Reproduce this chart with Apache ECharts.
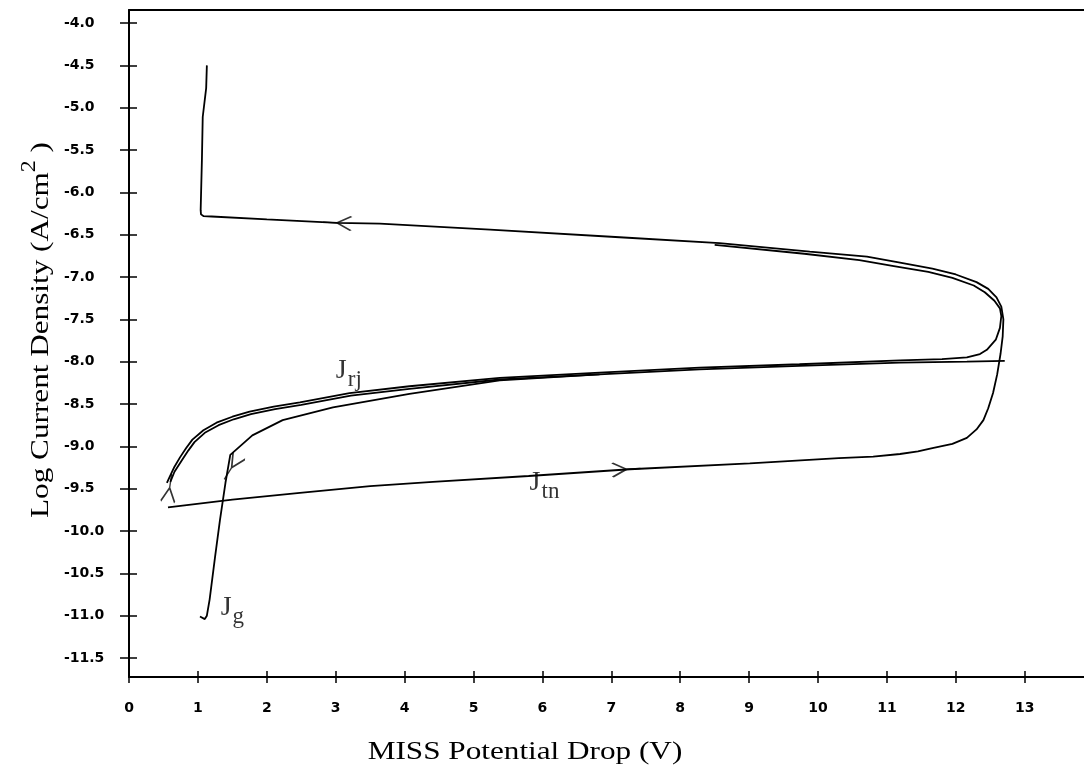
<!DOCTYPE html>
<html>
<head>
<meta charset="utf-8">
<script src="https://cdn.jsdelivr.net/npm/echarts@6/dist/echarts.min.js"></script>
<style>html,body{margin:0;padding:0;background:#fff}#c{width:1084px;height:773px}</style>
</head>
<body>
<div id="c"></div>
<script>
// Tick labels
const xTicks = [0,1,2,3,4,5,6,7,8,9,10,11,12,13];
const yTicks = [-11.5,-11,-10.5,-10,-9.5,-9,-8.5,-8,-7.5,-7,-6.5,-6,-5.5,-5,-4.5,-4];

// J_tn sweep, turning point, upper return line and vertical rise
const tnTopX = [0.566,1.5,2.48,3.5,4.41,5.8,7.27,9.01,10.3,10.8,11.19,11.45,11.66,11.95,12.16,12.30,12.40,12.47,12.54,12.60,12.65,12.68,12.69,12.66,12.59,12.47,12.30,12.00,11.66,11.19,10.71,9.88,8.57,7.12,5.24,3.64,3.02,2.0,1.20,1.08,1.045,1.04,1.058,1.07,1.12,1.13];
const tnTopY = [-9.72,-9.63,-9.55,-9.47,-9.42,-9.35,-9.27,-9.20,-9.14,-9.12,-9.09,-9.06,-9.02,-8.97,-8.90,-8.80,-8.69,-8.55,-8.37,-8.15,-7.90,-7.70,-7.50,-7.35,-7.24,-7.14,-7.06,-6.97,-6.90,-6.83,-6.76,-6.70,-6.60,-6.53,-6.44,-6.37,-6.36,-6.32,-6.285,-6.28,-6.26,-6.21,-5.62,-5.11,-4.77,-4.50];

// J_rj upper trace
const rjUpX = [0.55,0.59,0.66,0.74,0.83,0.92,1.08,1.27,1.50,1.75,2.10,2.48,3.20,4.07,5.38,6.83,8.28,9.73,11.19,11.80,12.16,12.35,12.45,12.58,12.64,12.66,12.64,12.56,12.42,12.26,11.95,11.60,11.10,10.60,9.80,8.50];
const rjUpY = [-9.43,-9.36,-9.24,-9.13,-9.02,-8.92,-8.81,-8.72,-8.65,-8.59,-8.53,-8.48,-8.37,-8.29,-8.19,-8.13,-8.07,-8.03,-7.985,-7.97,-7.95,-7.91,-7.86,-7.74,-7.60,-7.46,-7.37,-7.28,-7.18,-7.10,-7.01,-6.94,-6.87,-6.80,-6.725,-6.62];

// J_rj lower trace
const rjLoX = [0.60,0.66,0.77,0.86,0.95,1.10,1.30,1.52,1.77,2.12,2.50,3.22,4.07,5.38,6.83,8.28,9.73,11.19,12.16,12.71];
const rjLoY = [-9.42,-9.30,-9.16,-9.05,-8.95,-8.84,-8.75,-8.68,-8.62,-8.56,-8.51,-8.40,-8.32,-8.21,-8.15,-8.09,-8.05,-8.01,-8.00,-7.99];

// J_g trace
const jgX = [1.03,1.10,1.13,1.17,1.25,1.32,1.40,1.47,1.79,2.23,2.96,4.07,5.38,6.83];
const jgY = [-11.01,-11.04,-11.00,-10.81,-10.30,-9.87,-9.43,-9.10,-8.87,-8.69,-8.54,-8.38,-8.22,-8.15];

// Direction arrows (position, direction in degrees)
const arrowX = [3.02,7.22,0.59,1.49];
const arrowY = [-6.36,-9.27,-9.49,-9.25];
const arrowDir = [177,3,82,238];

// Curve labels
const labelX = [3.19,6.03,1.50];
const labelY = [-8.10,-9.43,-10.90];
const labelText = ['{j|J}{s|rj}','{j|J}{s|tn}','{j|J}{s|g}'];

const zip = (xs, ys) => xs.map((x, i) => [x, ys[i]]);

const chart = echarts.init(document.getElementById('c'), null, {renderer: 'canvas'});

const Y_MIN = -11.724, Y_MAX = -3.846, X_MIN = 0, X_MAX = 13.86;
const tickFont = {fontFamily: 'DejaVu Sans', fontWeight: 'bold', fontSize: 14, color: '#000'};
const serif = 'Liberation Serif';

const lineSeries = (name, xs, ys) => ({
  type: 'line', name, data: zip(xs, ys), showSymbol: false, symbol: 'none',
  lineStyle: {color: '#000', width: 1.8}, xAxisIndex: 0, yAxisIndex: 0,
  animation: false, silent: true, clip: false
});

const option = {
  backgroundColor: '#fff',
  animation: false,
  grid: {left: 129, right: 0, top: 10, bottom: 96, containLabel: false},
  xAxis: [
    {type: 'value', position: 'bottom', min: X_MIN, max: X_MAX,
     axisLine: {show: true, onZero: false, lineStyle: {color: '#000', width: 2}},
     axisTick: {show: true, inside: false, length: 6, customValues: xTicks, lineStyle: {color: '#000', width: 1.5}},
     axisLabel: Object.assign({show: true, customValues: xTicks, margin: 24, formatter: v => String(v)}, tickFont),
     splitLine: {show: false}},
    {type: 'value', position: 'bottom', min: X_MIN, max: X_MAX,
     axisLine: {show: false, onZero: false},
     axisTick: {show: true, inside: true, length: 6, customValues: xTicks, lineStyle: {color: '#000', width: 1.5}},
     axisLabel: {show: false}, splitLine: {show: false}},
    {type: 'value', position: 'top', min: X_MIN, max: X_MAX,
     axisLine: {show: true, onZero: false, lineStyle: {color: '#000', width: 2}},
     axisTick: {show: false}, axisLabel: {show: false}, splitLine: {show: false}}
  ],
  yAxis: [
    {type: 'value', position: 'left', min: Y_MIN, max: Y_MAX,
     axisLine: {show: true, onZero: false, lineStyle: {color: '#000', width: 2}},
     axisTick: {show: true, inside: false, length: 9, customValues: yTicks, lineStyle: {color: '#000', width: 1.5}},
     axisLabel: Object.assign({show: true, customValues: yTicks, align: 'left', margin: 65, formatter: v => v.toFixed(1)}, tickFont),
     splitLine: {show: false}},
    {type: 'value', position: 'left', min: Y_MIN, max: Y_MAX,
     axisLine: {show: false, onZero: false},
     axisTick: {show: true, inside: true, length: 8, customValues: yTicks, lineStyle: {color: '#000', width: 1.5}},
     axisLabel: {show: false}, splitLine: {show: false}}
  ],
  series: [
    lineSeries('tnTop', tnTopX, tnTopY),
    lineSeries('rjUp', rjUpX, rjUpY),
    lineSeries('rjLo', rjLoX, rjLoY),
    lineSeries('jg', jgX, jgY),
    {
      type: 'scatter', name: 'arrows', xAxisIndex: 0, yAxisIndex: 0, silent: true, animation: false,
      data: arrowX.map((x, i) => ({value: [x, arrowY[i]], symbolRotate: arrowDir[i]})),
      symbol: 'path://M0,0 L10,6 L0,12 M10,6 L20,6',
      symbolSize: [28, 14],
      symbolKeepAspect: false,
      itemStyle: {color: 'rgba(0,0,0,0)', borderColor: '#000', borderWidth: 1.9},
      clip: false
    },
    {
      type: 'scatter', name: 'labels', xAxisIndex: 0, yAxisIndex: 0, silent: true, animation: false,
      data: labelX.map((x, i) => ({value: [x, labelY[i]], label: {formatter: labelText[i]}})),
      symbolSize: 0,
      itemStyle: {color: 'rgba(0,0,0,0)'},
      label: {
        show: true, position: 'inside', color: '#000',
        rich: {
          j: {fontFamily: serif, fontSize: 28, lineHeight: 28, verticalAlign: 'top', color: '#000'},
          s: {fontFamily: serif, fontSize: 23, lineHeight: 23, padding: [12, 0, 0, 1], verticalAlign: 'top', color: '#000'}
        }
      },
      clip: false
    }
  ],
  graphic: [
    {type: 'text', x: 525, y: 752, scaleX: 1.2, silent: true,
     style: {text: 'MISS Potential Drop (V)', fontFamily: serif, fontSize: 26, fill: '#000', align: 'center', verticalAlign: 'middle'}},
    {type: 'text', x: 33, y: 330, rotation: Math.PI / 2, scaleX: 1.2, silent: true,
     style: {text: '{a|Log Current Density (A/cm}{b|2}{a| )}', align: 'center', verticalAlign: 'middle', fill: '#000',
       rich: {
         a: {fontFamily: serif, fontSize: 26, lineHeight: 26, padding: [8, 0, 0, 0], verticalAlign: 'top', fill: '#000', color: '#000'},
         b: {fontFamily: serif, fontSize: 20, lineHeight: 20, verticalAlign: 'top', fill: '#000', color: '#000'}
       }}}
  ]
};
chart.setOption(option);
</script>
</body>
</html>
